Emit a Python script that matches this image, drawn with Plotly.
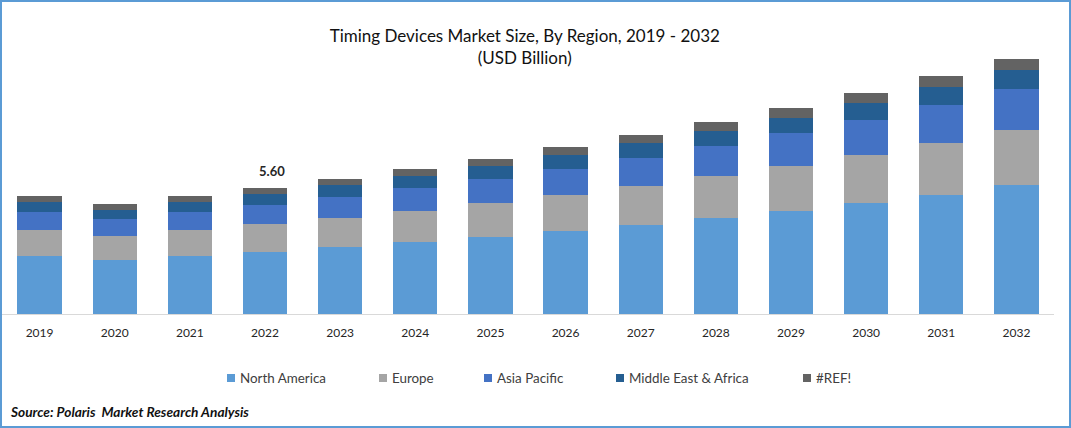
import plotly.graph_objects as go

years = ['2019', '2020', '2021', '2022', '2023', '2024', '2025', '2026', '2027', '2028', '2029', '2030', '2031', '2032']

north_america = [2.58, 2.40, 2.58, 2.76, 2.98, 3.20, 3.42, 3.69, 3.96, 4.27, 4.58, 4.93, 5.29, 5.73]
europe = [1.16, 1.07, 1.16, 1.24, 1.29, 1.38, 1.51, 1.60, 1.73, 1.87, 2.00, 2.13, 2.31, 2.44]
asia_pacific = [0.80, 0.76, 0.80, 0.84, 0.93, 1.02, 1.07, 1.16, 1.24, 1.33, 1.47, 1.56, 1.69, 1.82]
middle_east = [0.44, 0.40, 0.44, 0.49, 0.53, 0.53, 0.58, 0.62, 0.67, 0.67, 0.67, 0.76, 0.80, 0.84]
ref_error = [0.27, 0.27, 0.27, 0.27, 0.27, 0.31, 0.31, 0.36, 0.36, 0.40, 0.44, 0.44, 0.49, 0.49]

series = [
    ('North America', north_america, '#5b9bd5'),
    ('Europe', europe, '#a5a5a5'),
    ('Asia Pacific', asia_pacific, '#4472c4'),
    ('Middle East & Africa', middle_east, '#255e91'),
    ('#REF!', ref_error, '#636363'),
]

# left edge of each legend swatch, in pixels
legend_left = [227, 379, 484, 616, 803]

FONT = 'Lato'
W, H = 1071, 428
ML, MR, MT, MB = 2, 17, 44, 114


def px_x(x):
    return (x - ML) / (W - ML - MR)


def px_y(y):
    return (H - MB - y) / (H - MT - MB)


fig = go.Figure()

for name, values, colour in series:
    fig.add_trace(go.Bar(x=years, y=values, name=name, marker_color=colour, marker_line_width=0))

fig.update_layout(
    barmode='stack',
    bargap=0.41,
    width=W,
    height=H,
    margin=dict(l=ML, r=MR, t=MT, b=MB, autoexpand=False),
    paper_bgcolor='white',
    plot_bgcolor='white',
    showlegend=False,
    font=dict(family=FONT, size=13, color='#262626'),
    title=dict(
        text='Timing Devices Market Size, By Region, 2019 - 2032<br>(USD Billion)',
        x=0.49,
        xanchor='center',
        y=0.902,
        yanchor='top',
        font=dict(family=FONT, size=17, color='#111111'),
    ),
    xaxis=dict(
        type='category',
        showline=True,
        linecolor='#d9d9d9',
        linewidth=1,
        ticks='',
        ticklabelstandoff=8,
        tickfont=dict(size=12, color='#262626'),
    ),
    yaxis=dict(visible=False, range=[0, 12]),
)

# legend drawn by hand: plotly's swatch gap is much wider than the original
for (name, values, colour), left in zip(series, legend_left):
    fig.add_shape(
        type='rect',
        xref='paper',
        yref='paper',
        x0=px_x(left),
        x1=px_x(left + 8),
        y0=px_y(382),
        y1=px_y(374),
        fillcolor=colour,
        line_width=0,
    )
    fig.add_annotation(
        xref='paper',
        yref='paper',
        x=px_x(left + 12),
        xanchor='left',
        xshift=-1,
        y=px_y(378),
        yanchor='middle',
        text=name,
        showarrow=False,
        font=dict(family=FONT, size=13.4, color='#404040'),
    )

# value label on the 2022 stack (category axes take the position index here)
idx = years.index('2022')
fig.add_annotation(
    x=idx,
    y=sum(s[1][idx] for s in series),
    text='<b>5.60</b>',
    showarrow=False,
    yanchor='bottom',
    xshift=7,
    yshift=7,
    font=dict(family=FONT, size=13, color='#262626'),
)

fig.add_annotation(
    xref='paper',
    yref='paper',
    x=px_x(8),
    xanchor='left',
    y=px_y(411),
    yanchor='middle',
    text='<b><i>Source: Polaris  Market Research Analysis</i></b>',
    showarrow=False,
    font=dict(family=FONT, size=13.7, color='#111111'),
)

# blue frame around the whole picture
fig.add_shape(
    type='rect',
    xref='paper',
    yref='paper',
    x0=px_x(1),
    x1=px_x(1070),
    y0=px_y(427),
    y1=px_y(1),
    line=dict(color='#5b9bd5', width=2),
    fillcolor='rgba(0,0,0,0)',
    layer='above',
)

fig.write_html('out.html', config={'displayModeBar': False}, post_script="document.body.style.margin='0';")
